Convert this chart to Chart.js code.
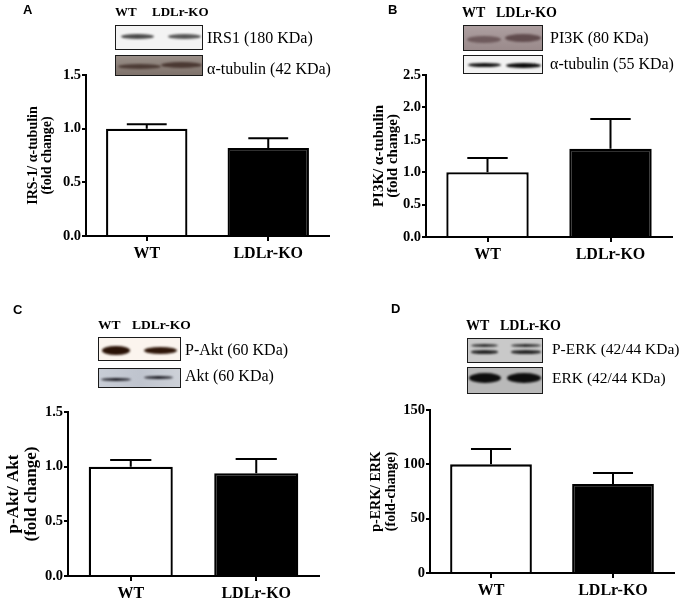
<!DOCTYPE html>
<html><head><meta charset="utf-8">
<script src="https://cdn.jsdelivr.net/npm/chart.js@4.4.1/dist/chart.umd.min.js"></script>
<style>
html,body{margin:0;padding:0;background:#fff;}
#wrap{position:relative;width:686px;height:601px;overflow:hidden;font-family:"Liberation Serif","Times New Roman",serif;color:#000;}
canvas.cv{position:absolute;}
.letter{position:absolute;font-family:"Liberation Sans",Arial,sans-serif;font-weight:bold;font-size:13px;line-height:1;}
.txt{position:absolute;line-height:1;white-space:nowrap;}
.blot{position:absolute;box-sizing:border-box;border:1.6px solid #1a1a1a;overflow:hidden;}
.band{position:absolute;border-radius:50%;filter:blur(1.1px);}
</style>
</head><body>
<div id="wrap">
<canvas id="cA" class="cv" width="343" height="300" style="left:0;top:0"></canvas>
<canvas id="cB" class="cv" width="343" height="300" style="left:343px;top:0"></canvas>
<canvas id="cC" class="cv" width="343" height="300" style="left:0;top:300px"></canvas>
<canvas id="cD" class="cv" width="343" height="300" style="left:343px;top:300px"></canvas>
</div>
<script>
// ---------- data ----------
const categories = ['WT', 'LDLr-KO'];

const irs1Means = [1.00, 0.82];
const irs1Sem   = [0.04, 0.09];
const irs1Ticks = [0, 0.5, 1.0, 1.5];

const pi3kMeans = [1.00, 1.36];
const pi3kSem   = [0.22, 0.46];
const pi3kTicks = [0, 0.5, 1.0, 1.5, 2.0, 2.5];

const aktMeans = [1.00, 0.94];
const aktSem   = [0.06, 0.13];
const aktTicks = [0, 0.5, 1.0, 1.5];

const erkMeans = [100, 82];
const erkSem   = [14, 10];
const erkTicks = [0, 50, 100, 150];

const titleA = ['IRS-1/ \u03b1-tubulin', '(fold change)'];
const titleB = ['PI3K/ \u03b1-tubulin', '(fold change)'];
const titleC = ['p-Akt/ Akt', '(fold change)'];
const titleD = ['p-ERK/ ERK', '(fold-change)'];

// ---------- error bar plugin ----------
const errorBarPlugin = {
  id: 'errbars',
  afterDatasetsDraw(chart) {
    const meta = chart.getDatasetMeta(0);
    const ys = chart.scales.y;
    const ds = chart.data.datasets[0];
    const ctx = chart.ctx;
    ctx.save();
    ctx.strokeStyle = '#000';
    ctx.lineWidth = 2;
    meta.data.forEach((bar, i) => {
      const top = ys.getPixelForValue(ds.data[i] + ds.errors[i]);
      const half = bar.width * 0.245;
      ctx.beginPath();
      ctx.moveTo(bar.x, bar.y);
      ctx.lineTo(bar.x, top);
      ctx.moveTo(bar.x - half, top);
      ctx.lineTo(bar.x + half, top);
      ctx.stroke();
    });
    ctx.restore();
  }
};

function makeChart(id, means, sem, ticks, decimals, title, g) {
  const ctx = document.getElementById(id);
  return new Chart(ctx, {
    type: 'bar',
    data: {
      labels: categories,
      datasets: [{
        data: means,
        errors: sem,
        backgroundColor: ['#ffffff', '#000000'],
        borderColor: '#000000',
        borderWidth: 2.3,
        categoryPercentage: 1.0,
        barPercentage: 0.67
      }]
    },
    plugins: [errorBarPlugin],
    options: {
      responsive: false,
      animation: false,
      layout: { padding: { left: g.padLeft, top: g.top, right: g.padRight, bottom: 0 } },
      plugins: { legend: { display: false }, tooltip: { enabled: false } },
      scales: {
        x: {
          offset: true,
          grid: { display: true, offset: false, drawOnChartArea: false, drawTicks: true,
                  tickLength: 5, color: '#000', lineWidth: 2 },
          border: { display: true, color: '#000', width: 2 },
          ticks: { color: '#000', padding: 3,
                   font: { family: 'Liberation Serif', weight: 'bold', size: 16 } },
          afterFit(s) { s.height = 300 - g.bottom; }
        },
        y: {
          min: ticks[0],
          max: ticks[ticks.length - 1],
          afterBuildTicks(s) { s.ticks = ticks.map(v => ({ value: v })); },
          grid: { display: true, drawOnChartArea: false, drawTicks: true,
                  tickLength: 4, color: '#000', lineWidth: 2 },
          border: { display: true, color: '#000', width: 2 },
          ticks: { color: '#000', padding: 1,
                   font: { family: 'Liberation Serif', weight: 'bold', size: 14.5 },
                   callback: v => Number(v).toFixed(decimals) },
          title: { display: true, text: title, color: '#000', padding: { top: 0, bottom: 0 },
                   font: { family: 'Liberation Serif', weight: 'bold', size: g.tSize, lineHeight: g.tLH } },
          afterFit(s) { s.width = g.axisLeft - g.padLeft; }
        }
      }
    }
  });
}

makeChart('cA', irs1Means, irs1Sem, irs1Ticks, 1, titleA,
  { padLeft: 26, axisLeft: 86, top: 75, bottom: 236, padRight: 14, tSize: 14, tLH: 1.0 });
makeChart('cB', pi3kMeans, pi3kSem, pi3kTicks, 1, titleB,
  { padLeft: 30, axisLeft: 83, top: 75, bottom: 237, padRight: 14, tSize: 15, tLH: 0.88 });
makeChart('cC', aktMeans, aktSem, aktTicks, 1, titleC,
  { padLeft: 5, axisLeft: 68, top: 112, bottom: 276, padRight: 24, tSize: 17, tLH: 1.06 });
makeChart('cD', erkMeans, erkSem, erkTicks, 0, titleD,
  { padLeft: 26, axisLeft: 87, top: 110, bottom: 273, padRight: 12, tSize: 14, tLH: 1.07 });

// ---------- decorations: panel letters, blot images, blot labels ----------
const wrap = document.getElementById('wrap');
function addText(str, x, baseline, size, bold, cls) {
  const d = document.createElement('div');
  d.className = cls || 'txt';
  d.textContent = str;
  d.style.left = x + 'px';
  d.style.fontSize = size + 'px';
  d.style.fontWeight = bold ? 'bold' : 'normal';
  const asc = cls === 'letter' ? 0.8465 : 0.8375;
  d.style.top = (baseline - asc * size) + 'px';
  wrap.appendChild(d);
}
function addBlot(x, y, w, h, bg, bands) {
  const b = document.createElement('div');
  b.className = 'blot';
  b.style.left = x + 'px'; b.style.top = y + 'px';
  b.style.width = w + 'px'; b.style.height = h + 'px';
  b.style.background = bg;
  bands.forEach(([bx0, bx1, cy, bh, col]) => {
    const s = document.createElement('div');
    s.className = 'band';
    s.style.left = (bx0 - x) + 'px';
    s.style.width = (bx1 - bx0) + 'px';
    s.style.top = (cy - y - bh / 2) + 'px';
    s.style.height = bh + 'px';
    s.style.background = col;
    b.appendChild(s);
  });
  wrap.appendChild(b);
}

// letters
addText('A', 23, 14, 13, true, 'letter');
addText('B', 388, 14, 13, true, 'letter');
addText('C', 13, 314, 13, true, 'letter');
addText('D', 391, 313, 13, true, 'letter');

// Panel A
addText('WT', 115, 15.5, 13, true);
addText('LDLr-KO', 152, 15.5, 13, true);
addBlot(115, 25, 88, 25, '#f3f3f3', [[120, 153, 35, 5, '#4a4a4a'], [167, 200, 35, 5, '#555']]);
addBlot(115, 55, 88, 21, 'linear-gradient(#9a8f88,#7f736c)', [[117, 160, 65, 5, '#4c3b35'], [160, 201, 64, 6, '#4a3832']]);
addText('IRS1 (180 KDa)', 207, 43, 16, false);
addText('\u03b1-tubulin (42 KDa)', 207, 74, 16, false);

// Panel B
addText('WT', 462, 18, 14, true);
addText('LDLr-KO', 496, 18, 14, true);
addBlot(463, 25, 80, 26, 'linear-gradient(#ad9fa0,#9a8a8b)', [[466, 500, 38, 7, '#6e5a5c'], [504, 540, 37, 8, '#614c4e']]);
addBlot(463, 55, 80, 19, '#f2f2f2', [[467, 500, 64, 4, '#111'], [505, 540, 64, 5, '#0a0a0a']]);
addText('PI3K (80 KDa)', 550, 43, 16, false);
addText('\u03b1-tubulin (55 KDa)', 550, 69, 16, false);

// Panel C
addText('WT', 98, 329, 13.5, true);
addText('LDLr-KO', 132, 329, 13.5, true);
addBlot(98, 337, 83, 24, '#fbf4ee', [[101, 129, 349, 9, '#2a1206'], [143, 176, 349, 7, '#2f1609']]);
addBlot(98, 368, 83, 20, 'linear-gradient(90deg,#c8cdd6,#bfc4ce,#cdd1d8)', [[100, 130, 378, 3, '#1c1c24'], [143, 172, 376, 3, '#1c1c24']]);
addText('P-Akt (60 KDa)', 185, 355, 16, false);
addText('Akt (60 KDa)', 185, 381, 16, false);

// Panel D
addText('WT', 466, 331, 14, true);
addText('LDLr-KO', 500, 331, 14, true);
addBlot(467, 338, 76, 25, '#c9c9c9', [[470, 497, 344, 3, '#2a2a2a'], [510, 540, 344, 3, '#2a2a2a'],
                                      [470, 497, 351, 3.5, '#222'], [510, 540, 351, 3.5, '#222']]);
addBlot(467, 367, 76, 27, '#b9b9b9', [[468, 500, 377, 10, '#0d0d0d'], [506, 540, 377, 10, '#0d0d0d']]);
addText('P-ERK (42/44 KDa)', 552, 353.5, 15.5, false);
addText('ERK (42/44 KDa)', 552, 383, 15.5, false);
</script>
</body></html>
